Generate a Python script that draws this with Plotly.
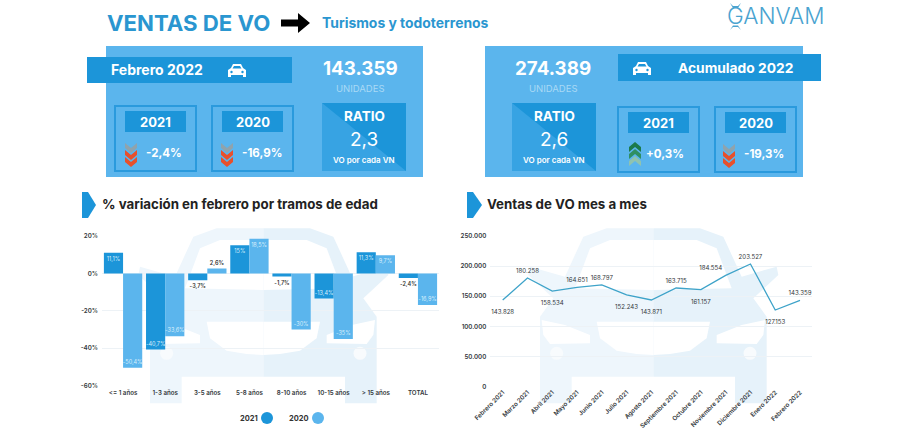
import plotly.graph_objects as go

W, H = 900, 432

# left chart
tramos = ['<= 1 años', '1-3 años', '3-5 años', '5-8 años', '8-10 años', '10-15 años', '> 15 años', 'TOTAL']
var_2021 = [11.1, -40.7, -3.7, 15, -1.7, -13.4, 11.3, -2.4]
var_2020 = [-50.4, -33.6, 2.6, 18.5, -30, -35, 9.7, -16.9]
pos_2021 = ['inside', 'inside', 'outside', 'inside', 'outside', 'inside', 'inside', 'outside']
pos_2020 = ['inside', 'inside', 'outside', 'inside', 'inside', 'inside', 'inside', 'inside']
ticks_var = [-60, -40, -20, 0, 20]
ticks_var_text = ['-60%', '-40%', '-20%', '0%', '20%']

# right chart
meses = ['Febrero 2021', 'Marzo 2021', 'Abril 2021', 'Mayo 2021', 'Junio 2021', 'Julio 2021', 'Agosto 2021',
         'Septiembre 2021', 'Octubre 2021', 'Noviembre 2021', 'Diciembre 2021', 'Enero 2022', 'Febrero 2022']
ventas = [143828, 180258, 158534, 164651, 168797, 152243, 143871, 163715, 161157, 184554, 203527, 127153, 143359]
pos_ventas = ['bottom center', 'top center', 'bottom center', 'top center', 'top center', 'bottom center',
              'bottom center', 'top center', 'bottom center', 'top left', 'top center', 'bottom center', 'top center']
ticks_ventas = [0, 50000, 100000, 150000, 200000, 250000]

AZUL = '#1c95d9'
CLARO = '#5bb5ed'
TEXTO = '#33383c'
FONT = 'Inter'

shapes, notes = [], []


def px(x):
    return x / W


def py(y):
    return 1 - y / H


def path(pts, color, line=None):
    d = 'M ' + ' L '.join('%.5f,%.5f' % (px(x), py(y)) for x, y in pts) + ' Z'
    shapes.append(dict(type='path', xref='paper', yref='paper', path=d, fillcolor=color, layer='below',
                       line=dict(width=0) if line is None else line))


def rect(x0, y0, x1, y1, color, line=None):
    shapes.append(dict(type='rect', xref='paper', yref='paper', x0=px(x0), x1=px(x1), y0=py(y0), y1=py(y1),
                       fillcolor=color, layer='below', line=dict(width=0) if line is None else line))


def circle(x, y, r, color):
    shapes.append(dict(type='circle', xref='paper', yref='paper', x0=px(x - r), x1=px(x + r), y0=py(y + r),
                       y1=py(y - r), fillcolor=color, layer='below', line=dict(width=0)))


def note(x, y, text, size, color='white', weight=700, anchor='center'):
    notes.append(dict(xref='paper', yref='paper', x=px(x), y=py(y), text=text, showarrow=False, xanchor=anchor,
                      yanchor='middle', font=dict(family=FONT, size=size, color=color, weight=weight)))


def car_half(pts, dx, mirror, color):
    out = []
    for zx, zy in pts:
        if mirror:
            zx = 1220 - zx
        out.append((450 + zx / 3 - dx, 220 + zy / 3))
    path(out, color)


def silueta(dx):
    # fondo del coche, la mitad derecha un poco mas oscura
    cuerpo = [(610, 25), (470, 25), (400, 50), (345, 170), (240, 140), (235, 165), (310, 235), (270, 290), (270, 550),
              (365, 550), (365, 470), (610, 470)]
    cristal = [(610, 60), (480, 60), (420, 85), (375, 205), (610, 210)]
    faro = [(275, 300), (345, 315), (420, 345), (420, 370), (300, 372), (280, 345)]
    rejilla = [(610, 305), (440, 305), (450, 355), (500, 392), (560, 402), (610, 405)]
    for mirror, color in ((False, '#eef6fc'), (True, '#e6f2fa')):
        car_half(cuerpo, dx, mirror, color)
        for pieza in (cristal, faro, rejilla):
            car_half(pieza, dx, mirror, 'white')
    circle(450 + 320 / 3 - dx, 220 + 400 / 3, 6.5, '#f8fbfd')
    circle(450 + 900 / 3 - dx, 220 + 400 / 3, 6.5, '#f8fbfd')


def coche(x, y):
    path([(x - 9, y + 7), (x - 9, y), (x - 6, y - 2), (x - 4, y - 6), (x + 4, y - 6), (x + 6, y - 2), (x + 9, y),
          (x + 9, y + 7), (x + 6, y + 7), (x + 6, y + 5), (x - 6, y + 5), (x - 6, y + 7)], 'white')
    path([(x - 3, y - 4), (x + 3, y - 4), (x + 4.5, y - 1.5), (x - 4.5, y - 1.5)], AZUL)
    circle(x - 5.5, y + 2, 1.2, AZUL)
    circle(x + 5.5, y + 2, 1.2, AZUL)


def chevron(x, y, color, down=True):
    s = 1 if down else -1
    path([(x - 6, y - 4 * s), (x, y + 1 * s), (x + 6, y - 4 * s), (x + 6, y + 1 * s), (x, y + 6 * s),
          (x - 6, y + 1 * s)], color)


def baja(x, y):
    chevron(x, y, '#8fa3ad')
    chevron(x, y + 7, '#e8502c')
    chevron(x, y + 14, '#e8502c')


def sube(x, y):
    chevron(x, y + 14, '#8fc3b0', down=False)
    chevron(x, y + 7, '#2f8f63', down=False)
    chevron(x, y, '#1b7a4c', down=False)


def caja(x0, y0, anio, valor, text_x, flecha, flecha_x):
    x1, y1 = x0 + 81, y0 + 65
    rect(x0, y0, x1, y1, CLARO, line=dict(color='#2a9add', width=2))
    rect(x0 + 10, y0 + 5, x1 - 10, y0 + 26, AZUL)
    note((x0 + x1) / 2, y0 + 15.5, anio, 13)
    flecha(flecha_x, y0 + 41)
    note(text_x, y0 + 47, valor, 11.5)


def ratio(x0, valor):
    x1, y0, y1 = x0 + 84, 103, 171
    rect(x0, y0, x1, y1, AZUL)
    path([(x0, y0), (x0, y1), (x1, y1)], '#37a3e3')
    note((x0 + x1) / 2, 116, 'RATIO', 13.5)
    note((x0 + x1) / 2, 139, valor, 19, weight=400)
    note((x0 + x1) / 2, 160, 'VO por cada VN', 8, weight=600)


# cabecera
note(105, 23, 'VENTAS DE VO', 22.2, '#2a96d0', 700, 'left')
path([(281, 19.5), (298, 19.5), (298, 13), (310, 23), (298, 33), (298, 26.5), (281, 26.5)], 'black')
note(320, 23, 'Turismos y todoterrenos', 13.9, '#2a96d0', 700, 'left')
notes.append(dict(xref='paper', yref='paper', x=px(725), y=py(16), text='GANVAM', showarrow=False, xanchor='left',
                  yanchor='middle', font=dict(family=FONT, size=22.5, color='#4aa3d0', weight=300)))
path([(730, 3), (733, 6), (738, 6), (741, 3), (738, 8), (733, 8)], '#4aa3d0')
path([(730, 30), (733, 27), (738, 27), (741, 30), (738, 25.5), (733, 25.5)], '#4aa3d0')

# panel izquierdo
rect(106, 46, 423, 177, CLARO)
rect(87, 57, 292, 83, AZUL)
note(157, 70, 'Febrero 2022', 14)
coche(237, 70)
note(360, 68, '143.359', 18.8)
note(360, 89, 'UNIDADES', 9.5, '#a9d9f5', 400)
caja(115, 106, '2021', '-2,4%', 164, baja, 131)
caja(212, 106, '2020', '-16,9%', 262, baja, 227)
ratio(322, '2,3')

# panel derecho
rect(485, 46, 803, 177, CLARO)
rect(618, 54, 821, 81, AZUL)
note(735, 68, 'Acumulado 2022', 13.8)
coche(642, 68)
note(553, 68, '274.389', 18.8)
note(553, 89, 'UNIDADES', 9.5, '#a9d9f5', 400)
ratio(512, '2,6')
caja(618, 107, '2021', '+0,3%', 665, sube, 635)
caja(715, 107, '2020', '-19,3%', 764, baja, 729)

# titulos de seccion
path([(82, 192), (88, 192), (96, 205), (88, 218), (82, 218)], AZUL)
note(100, 204, '% variación en febrero por tramos de edad', 13.3, '#222222', 700, 'left')
path([(467, 192), (473, 192), (482, 205), (473, 218), (467, 218)], AZUL)
note(485, 204, 'Ventas de VO mes a mes', 13.3, '#222222', 700, 'left')

silueta(390)
silueta(0)

# leyenda
note(249, 418, '2021', 7.5, '#333333')
circle(267, 418, 6, AZUL)
note(299, 418, '2020', 7.5, '#333333')
circle(318, 418, 6, CLARO)

fig = go.Figure()


def bar_trace(values, color, positions):
    return go.Bar(x=tramos, y=values, marker=dict(color=color, line=dict(width=0)), texttemplate='%{y:.1~f}%',
                  textposition=positions, insidetextanchor='end', constraintext='none', cliponaxis=False,
                  textangle=0,
                  insidetextfont=dict(family=FONT, size=5.5, color='#d8eefb'),
                  outsidetextfont=dict(family=FONT, size=5.5, color='#333333', weight=600), showlegend=False,
                  xaxis='x', yaxis='y')


fig.add_trace(bar_trace(var_2021, AZUL, pos_2021))
fig.add_trace(bar_trace(var_2020, CLARO, pos_2020))
# marcadores invisibles, solo separan las etiquetas de la linea
sep = [14 if p.startswith('bottom') else 4 for p in pos_ventas]
fig.add_trace(go.Scatter(x=meses, y=ventas, mode='lines+markers+text', line=dict(color='#3ea3c9', width=1.3),
                         marker=dict(size=sep, opacity=0),
                         texttemplate='%{y:,d}', textposition=pos_ventas, cliponaxis=False,
                         textfont=dict(family=FONT, size=6.1, color=TEXTO), showlegend=False,
                         xaxis='x2', yaxis='y2'))

tick = dict(family=FONT, size=6.2, color=TEXTO, weight=600)
fig.update_layout(
    width=W, height=H, margin=dict(l=0, r=0, t=0, b=0), paper_bgcolor='white', plot_bgcolor='rgba(0,0,0,0)',
    separators=',.', barmode='group', bargap=0.09, bargroupgap=0, shapes=shapes, annotations=notes,
    xaxis=dict(domain=[px(102), px(439)], anchor='y', showgrid=False, showline=False, ticks='', tickfont=tick,
               tickangle=0, ticklabelstandoff=2, zeroline=False, automargin=False),
    yaxis=dict(domain=[py(385.7), py(236)], anchor='x', range=[-60, 20], tickvals=ticks_var, ticktext=ticks_var_text,
               gridcolor='#edf2f6', gridwidth=1, zeroline=False, showline=False, tickfont=tick,
               ticklabelstandoff=3, automargin=False),
    xaxis2=dict(domain=[px(490.3), px(812.4)], anchor='y2', range=[-0.5, 12.5], showgrid=False, showline=False,
                ticks='', tickfont=tick, tickangle=-45, zeroline=False, automargin=False),
    yaxis2=dict(domain=[py(386.7), py(236)], anchor='x2', range=[0, 250000],
                tickvals=ticks_ventas, tickformat=',d', gridcolor='#edf2f6',
                gridwidth=1, zeroline=False, showline=False, tickfont=tick, ticklabelstandoff=3, automargin=False),
)

fig.write_html("out.html", config={'displayModeBar': False}, post_script="document.body.style.margin = '0';")
